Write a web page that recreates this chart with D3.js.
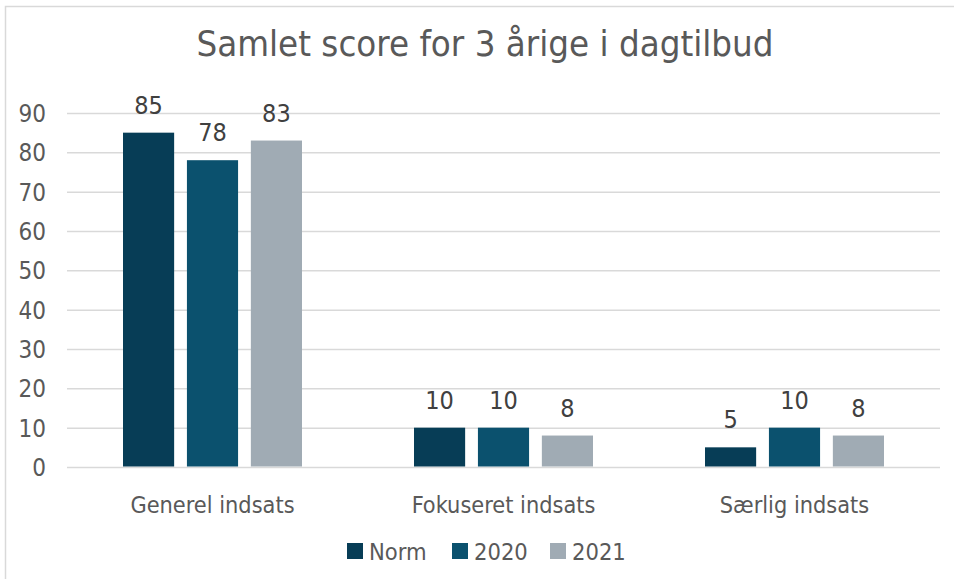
<!DOCTYPE html>
<html>
<head>
<meta charset="utf-8">
<script src="https://cdn.jsdelivr.net/npm/d3@7"></script>
<style>
  html, body { margin: 0; padding: 0; background: #ffffff; }
  svg { display: block; }
  text { font-family: "DejaVu Sans Condensed", "DejaVu Sans", sans-serif; font-stretch: condensed; }
</style>
</head>
<body>
<script>
const title = "Samlet score for 3 årige i dagtilbud";
const categories = ["Generel indsats", "Fokuseret indsats", "Særlig indsats"];
const seriesNames = ["Norm", "2020", "2021"];
const normValues = [85, 10, 5];
const values2020 = [78, 10, 10];
const values2021 = [83, 8, 8];
const seriesColors = ["#073d56", "#0b516e", "#a0abb4"];
const yTicks = [0, 10, 20, 30, 40, 50, 60, 70, 80, 90];

const W = 954, H = 579;
const plot = { left: 67, right: 940, top: 113, bottom: 467 };
const textColor = "#595959";

const svg = d3.select("body").append("svg").attr("width", W).attr("height", H);

// chart border
svg.append("rect")
  .attr("x", 5.5).attr("y", 6.5)
  .attr("width", W + 10).attr("height", H + 10)
  .attr("fill", "none").attr("stroke", "#d9d9d9").attr("stroke-width", 1.5);

const seriesValues = [normValues, values2020, values2021];
const data = categories.map((c, i) => ({
  category: c,
  values: seriesNames.map((s, j) => ({ series: s, value: seriesValues[j][i], color: seriesColors[j] }))
}));

const x0 = d3.scaleBand().domain(categories).range([plot.left, plot.right]).padding(0);
const groupOuter = (x0.bandwidth() - 179) / 2;
const x1 = d3.scaleBand().domain(seriesNames)
  .range([groupOuter, groupOuter + 179]).paddingInner(0.2).paddingOuter(0);
const y = d3.scaleLinear().domain([0, 90]).range([plot.bottom, plot.top]);

// gridlines
const grid = svg.append("g")
  .attr("transform", `translate(${plot.left},0)`)
  .call(d3.axisLeft(y).tickValues(yTicks).tickSize(-(plot.right - plot.left)).tickFormat(""));
grid.select(".domain").remove();
grid.selectAll(".tick line").attr("stroke", "#d9d9d9").attr("stroke-width", 1.5);

// y tick labels
const yAxis = svg.append("g")
  .attr("transform", `translate(${plot.left - 21},0)`)
  .call(d3.axisLeft(y).tickValues(yTicks).tickSize(0).tickPadding(0));
yAxis.select(".domain").remove();
yAxis.selectAll("text")
  .attr("fill", textColor).style("font-size", "24px").attr("dy", "0.36em");

// bars
const groups = svg.append("g").selectAll("g").data(data).join("g")
  .attr("transform", d => `translate(${x0(d.category)},0)`);

groups.selectAll("rect").data(d => d.values).join("rect")
  .attr("x", d => x1(d.series))
  .attr("y", d => y(d.value))
  .attr("width", x1.bandwidth())
  .attr("height", d => y(0) - y(d.value) - 0.5)
  .attr("fill", d => d.color);

groups.selectAll("text.lbl").data(d => d.values).join("text")
  .attr("class", "lbl")
  .attr("x", d => x1(d.series) + x1.bandwidth() / 2)
  .attr("y", d => y(d.value) - 19)
  .attr("text-anchor", "middle")
  .attr("fill", "#404040")
  .style("font-size", "25px")
  .text(d => d.value);

// x axis labels
const xAxis = svg.append("g")
  .attr("transform", `translate(0,${plot.bottom})`)
  .call(d3.axisBottom(x0).tickSize(0).tickPadding(0));
xAxis.select(".domain").remove();
xAxis.selectAll("text")
  .attr("fill", textColor).attr("y", 46).attr("dy", 0)
  .style("font-size", "23.3px");

// title
svg.append("text")
  .attr("x", 485).attr("y", 56)
  .attr("text-anchor", "middle")
  .attr("fill", textColor)
  .style("font-size", "36.3px")
  .text(title);

// legend
const legendX = [347, 452, 550];
const legend = svg.append("g").selectAll("g").data(seriesNames).join("g")
  .attr("transform", (d, i) => `translate(${legendX[i]},543)`);
legend.append("rect").attr("width", 16).attr("height", 16)
  .attr("fill", (d, i) => seriesColors[i]);
legend.append("text").attr("x", 22).attr("y", 16.5)
  .attr("fill", textColor).style("font-size", "23.5px")
  .text(d => d);
</script>
</body>
</html>
